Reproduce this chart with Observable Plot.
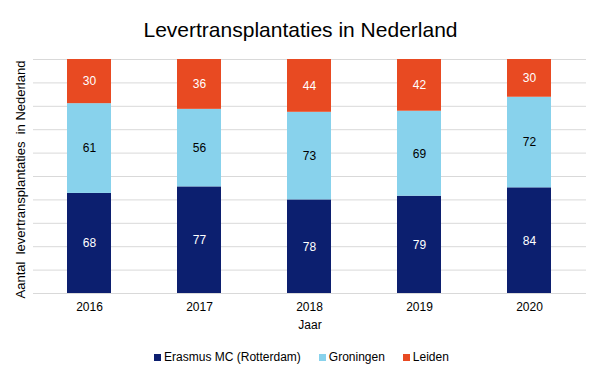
<!DOCTYPE html>
<html>
<head>
<meta charset="utf-8">
<script src="https://cdn.jsdelivr.net/npm/d3@7"></script>
<script src="https://cdn.jsdelivr.net/npm/@observablehq/plot@0.6"></script>
<style>
  body { margin: 0; background: #fff; font-family: "Liberation Sans", Arial, sans-serif; }
  #wrap { width: 601px; height: 383px; position: relative; overflow: hidden; }
  #title { height: 48px; line-height: 60px; text-align: center; font-size: 21px; color: #000; }
  #legend { display: flex; justify-content: center; gap: 18px; font-size: 12px; color: #000; margin-top: 10px; margin-left: 2px; }
  #legend span.item { display: flex; align-items: center; }
  #legend i { display: inline-block; width: 7px; height: 7px; margin-right: 3px; }
</style>
</head>
<body>
<div id="wrap">
  <div id="title">Levertransplantaties in Nederland</div>
  <div id="chart"></div>
  <div id="legend"></div>
</div>
<script>
const years = ["2016", "2017", "2018", "2019", "2020"];
const erasmus = [68, 77, 78, 79, 84];
const groningen = [61, 56, 73, 69, 72];
const leiden = [30, 36, 44, 42, 30];
const centers = ["Erasmus MC (Rotterdam)", "Groningen", "Leiden"];
const colors = ["#0c1f6f", "#88d2ec", "#e84a22"];
const textColors = ["#ffffff", "#000000", "#ffffff"];
const gridTicks = [0, 0.1, 0.2, 0.3, 0.4, 0.5, 0.6, 0.7, 0.8, 0.9, 1];
const yLabel = "Aantal  levertransplantaties  in Nederland";
const xLabel = "Jaar";

const series = [erasmus, groningen, leiden];
const data = [];
centers.forEach((c, ci) => {
  years.forEach((y, yi) => {
    data.push({year: y, center: c, value: series[ci][yi], textColor: textColors[ci]});
  });
});

const stackOpts = {x: "year", y: "value", z: "center", offset: "normalize", order: centers};

const chart = Plot.plot({
  width: 601,
  height: 292,
  marginLeft: 33,
  marginRight: 15,
  marginTop: 11,
  marginBottom: 47,
  style: {fontFamily: "Liberation Sans, Arial, sans-serif", fontSize: "12px", color: "#000"},
  x: {domain: years, paddingInner: 0.6, paddingOuter: 0.3, label: null},
  y: {domain: [0, 1], axis: null},
  color: {domain: centers, range: colors},
  marks: [
    Plot.ruleY(gridTicks, {stroke: "#d9d9d9", strokeWidth: 1}),
    Plot.barY(data, Plot.stackY({...stackOpts, fill: "center"})),
    Plot.text(data, Plot.stackY({...stackOpts, text: "value", fill: "textColor", fontSize: 12})),
    Plot.axisX({tickSize: 0, tickPadding: 9, label: null, fontSize: 12}),
    Plot.text([xLabel], {frameAnchor: "bottom", dy: 35, fontSize: 12, fill: "#000"}),
    Plot.text([yLabel], {frameAnchor: "left", dx: -13, dy: 3, rotate: -90, textAnchor: "middle", fontSize: 13, fill: "#000"})
  ]
});
document.getElementById("chart").appendChild(chart);

const legend = document.getElementById("legend");
centers.forEach((c, i) => {
  const s = document.createElement("span");
  s.className = "item";
  const sw = document.createElement("i");
  sw.style.background = colors[i];
  s.appendChild(sw);
  s.appendChild(document.createTextNode(c));
  legend.appendChild(s);
});
</script>
</body>
</html>
